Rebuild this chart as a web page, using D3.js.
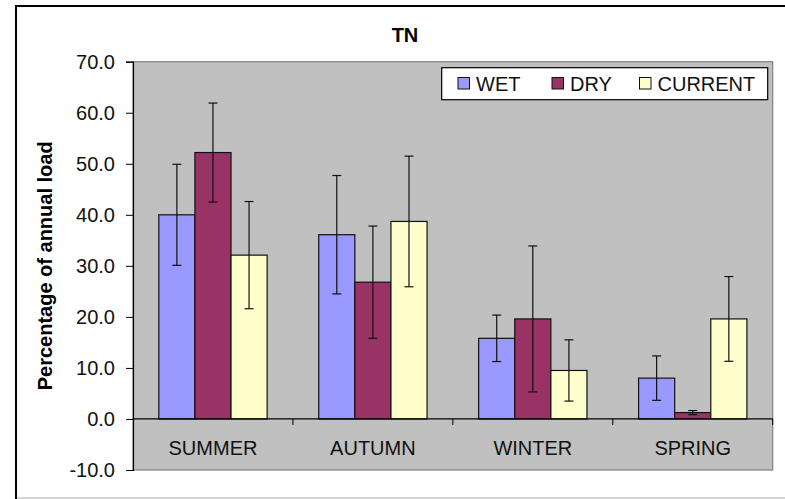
<!DOCTYPE html>
<html><head><meta charset="utf-8">
<script src="https://cdn.jsdelivr.net/npm/d3@7"></script>
<style>body{margin:0;background:#fff}svg{display:block}text{font-family:"Liberation Sans",Arial,sans-serif}</style>
</head><body><svg id="c" width="785" height="499"></svg>
<script>
const categories = ["SUMMER","AUTUMN","WINTER","SPRING"];
const series = ["WET","DRY","CURRENT"];
const colors = ["#9999FF","#993366","#FFFFCC"];
const wet = [40.0, 36.1, 15.8, 8.0];
const dry = [52.2, 26.8, 19.6, 1.25];
const current = [32.1, 38.7, 9.5, 19.6];
const wetErr = [9.9, 11.6, 4.55, 4.35];
const dryErr = [9.7, 11.0, 14.3, 0.4];
const currentErr = [10.5, 12.8, 6.0, 8.3];
const yTicks = [-10,0,10,20,30,40,50,60,70];
const title = "TN";
const yTitle = "Percentage of annual load";

const values = [wet, dry, current];
const errs = [wetErr, dryErr, currentErr];

const svg = d3.select("#c");
const L = 133, R = 772.7, T = 61.7, B = 470;

// outer frame (cropped)
svg.append("path").attr("d","M16,499 L16,6 L785,6").attr("fill","none").attr("stroke","#000").attr("stroke-width",2);
svg.append("line").attr("x1",17).attr("x2",785).attr("y1",498).attr("y2",498).attr("stroke","#c8c8c8").attr("stroke-width",1.5);

const y = d3.scaleLinear().domain([-10,70]).range([B,T]);
const x = d3.scaleBand().domain(categories).range([L,R]).paddingInner(0).paddingOuter(0);
const xs = d3.scaleBand().domain(series).range([0,x.bandwidth()]).paddingInner(0).paddingOuter(0.715);

// plot background
svg.append("rect").attr("x",L).attr("y",T).attr("width",R-L).attr("height",B-T)
  .attr("fill","#C0C0C0").attr("stroke","#808080").attr("stroke-width",1.2);

// bars
const data = [];
categories.forEach((c,i)=>series.forEach((s,j)=>data.push({c,s,j,v:values[j][i],e:errs[j][i]})));
svg.append("g").selectAll("rect").data(data).join("rect")
  .attr("x",d=>x(d.c)+xs(d.s)).attr("width",xs.bandwidth())
  .attr("y",d=>y(Math.max(0,d.v))).attr("height",d=>Math.abs(y(d.v)-y(0)))
  .attr("fill",d=>colors[d.j]).attr("stroke","#111").attr("stroke-width",1.2);

// error bars
const eg = svg.append("g").attr("stroke","#111").attr("stroke-width",1.2);
data.forEach(d=>{
  const cx = x(d.c)+xs(d.s)+xs.bandwidth()/2;
  eg.append("line").attr("x1",cx).attr("x2",cx).attr("y1",y(d.v+d.e)).attr("y2",y(d.v-d.e));
  eg.append("line").attr("x1",cx-4.5).attr("x2",cx+4.5).attr("y1",y(d.v+d.e)).attr("y2",y(d.v+d.e));
  eg.append("line").attr("x1",cx-4.5).attr("x2",cx+4.5).attr("y1",y(d.v-d.e)).attr("y2",y(d.v-d.e));
});

// y axis
const ya = svg.append("g").attr("transform",`translate(${L},0)`)
  .call(d3.axisLeft(y).tickValues(yTicks).tickSize(7).tickPadding(11).tickFormat(d=>d.toFixed(1)));
ya.select(".domain").attr("stroke","#000").attr("stroke-width",1.2);
ya.selectAll(".tick line").attr("stroke","#000");
ya.selectAll("text").attr("font-size",20).attr("fill","#111").attr("font-family","Liberation Sans, Arial, sans-serif");

// category axis at zero
const xa = svg.append("g").attr("transform",`translate(0,${y(0)})`)
  .call(d3.axisBottom(x).tickSize(0).tickPadding(0));
xa.select(".domain").remove();
xa.append("line").attr("x1",L).attr("x2",R).attr("stroke","#000").attr("stroke-width",1.2);
xa.selectAll(".tick text").attr("font-size",20).attr("fill","#111").attr("y",36.5).attr("dy",0)
  .attr("font-family","Liberation Sans, Arial, sans-serif");
const bounds = categories.map(c=>x(c)).slice(1).concat([R]);
xa.selectAll(".bt").data(bounds).join("line").attr("class","bt")
  .attr("x1",d=>d).attr("x2",d=>d).attr("y1",0).attr("y2",6).attr("stroke","#000");

// title
svg.append("text").attr("x",405).attr("y",41.7).attr("text-anchor","middle")
  .attr("font-size",20).attr("font-weight","bold").text(title);

// y title
svg.append("text").attr("transform",`translate(52,${(T+B)/2}) rotate(-90)`)
  .attr("text-anchor","middle").attr("font-size",20).attr("font-weight","bold").text(yTitle);

// legend
const lg = svg.append("g");
lg.append("rect").attr("x",441.7).attr("y",67.7).attr("width",326).attr("height",32)
  .attr("fill","#fff").attr("stroke","#000").attr("stroke-width",1.2);
const lx = [458, 552, 639.5];
series.forEach((s,j)=>{
  lg.append("rect").attr("x",lx[j]).attr("y",77.5).attr("width",11.5).attr("height",11.5)
    .attr("fill",colors[j]).attr("stroke","#111").attr("stroke-width",1);
  lg.append("text").attr("x",lx[j]+18).attr("y",90.5).attr("font-size",20).attr("fill","#111").text(s);
});
</script></body></html>
